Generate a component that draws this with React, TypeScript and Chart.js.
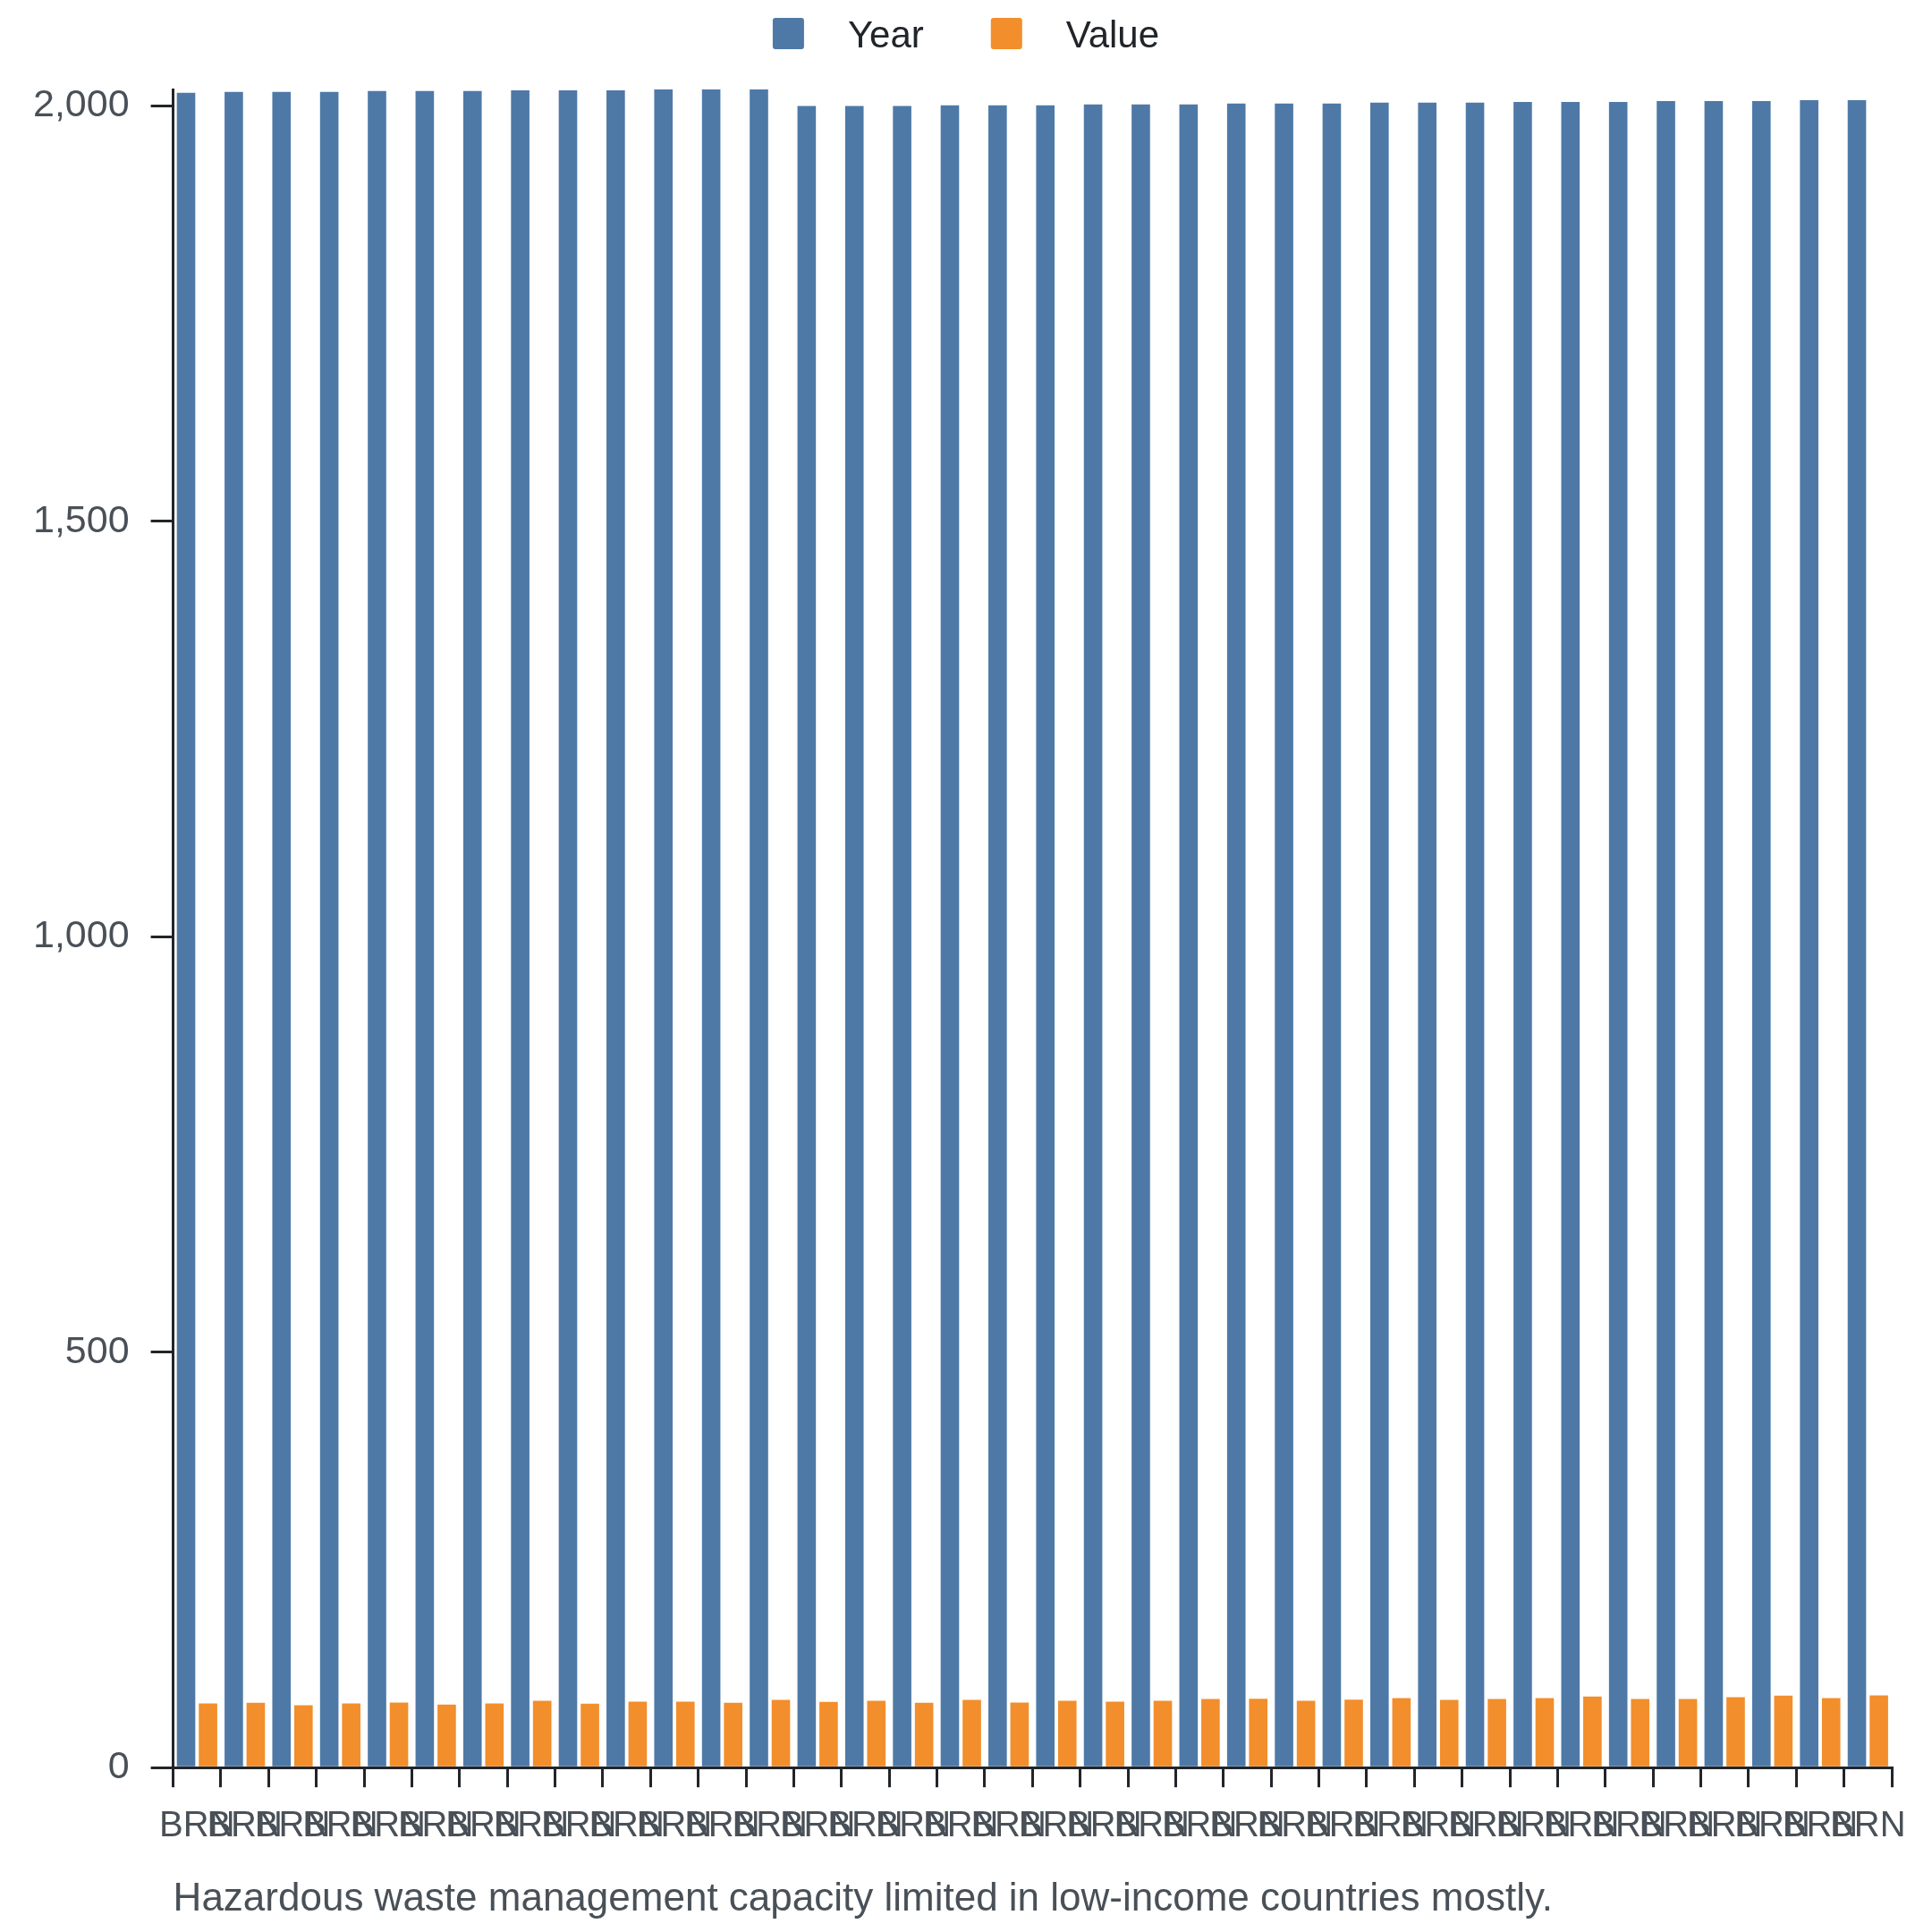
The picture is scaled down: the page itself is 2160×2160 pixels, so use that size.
import React, { useEffect, useRef } from 'react';
import { Chart, registerables } from 'chart.js';

Chart.register(...registerables);

const FONT = "'Liberation Sans', Arial, Helvetica, sans-serif";

const categories = [
  'BRN', 'BRN', 'BRN', 'BRN', 'BRN', 'BRN', 'BRN', 'BRN', 'BRN', 'BRN', 'BRN', 'BRN',
  'BRN', 'BRN', 'BRN', 'BRN', 'BRN', 'BRN', 'BRN', 'BRN', 'BRN', 'BRN', 'BRN', 'BRN',
  'BRN', 'BRN', 'BRN', 'BRN', 'BRN', 'BRN', 'BRN', 'BRN', 'BRN', 'BRN', 'BRN', 'BRN',
];

const yearValues = [
  2016, 2017, 2017, 2017, 2018, 2018, 2018, 2019, 2019, 2019, 2020, 2020,
  2020, 2000, 2000, 2000, 2001, 2001, 2001, 2002, 2002, 2002, 2003, 2003,
  2003, 2004, 2004, 2004, 2005, 2005, 2005, 2006, 2006, 2006, 2007, 2007,
];

const valueValues = [
  77.2, 78.0, 75.0, 77.2, 78.3, 75.8, 77.2, 80.4, 76.9, 79.4, 79.4, 78.0,
  81.5, 79.0, 80.4, 78.0, 81.5, 78.3, 80.4, 79.4, 80.4, 82.6, 82.9, 80.4,
  81.8, 83.7, 81.5, 82.6, 83.7, 85.5, 82.6, 82.6, 84.7, 86.6, 83.7, 86.9,
];

const seriesNames = ['Year', 'Value'];
const seriesColors = ['#4e79a7', '#f28e2b'];
const yTickStep = 500;
const caption = 'Hazardous waste management capacity limited in low-income countries mostly.';

const AXIS = '#212529';
const TICK_TEXT = '#495057';

const legendPlugin = {
  id: 'topLegend',
  afterDraw(chart: any) {
    const ctx = chart.ctx;
    ctx.save();
    ctx.font = `42px ${FONT}`;
    const box = 35;
    const gap = 49;
    const spacing = 75;
    const items = chart.data.datasets.map((ds: any) => ({
      text: ds.label,
      color: ds.backgroundColor,
      w: ctx.measureText(ds.label).width,
    }));
    const total =
      items.reduce((s: number, it: any) => s + box + gap + it.w, 0) + spacing * (items.length - 1);
    let x = (chart.width - total) / 2;
    const top = 12;
    for (const it of items) {
      ctx.fillStyle = it.color;
      ctx.beginPath();
      if (ctx.roundRect) ctx.roundRect(x, top, box, box, 3);
      else ctx.rect(x, top, box, box);
      ctx.fill();
      ctx.fillStyle = AXIS;
      ctx.textBaseline = 'alphabetic';
      ctx.textAlign = 'left';
      ctx.fillText(it.text, x + box + gap, 45);
      x += box + gap + it.w + spacing;
    }
    ctx.restore();
  },
};

export default function App() {
  const canvasRef = useRef<HTMLCanvasElement | null>(null);

  useEffect(() => {
    if (!canvasRef.current) return;
    const yMax = Math.max(...yearValues);
    const chart = new Chart(canvasRef.current, {
      type: 'bar',
      data: {
        labels: categories,
        datasets: [
          {
            label: seriesNames[0],
            data: yearValues,
            backgroundColor: seriesColors[0],
            categoryPercentage: 0.92,
            barPercentage: 0.84,
          },
          {
            label: seriesNames[1],
            data: valueValues,
            backgroundColor: seriesColors[1],
            categoryPercentage: 0.92,
            barPercentage: 0.84,
          },
        ],
      },
      options: {
        animation: false,
        responsive: true,
        maintainAspectRatio: false,
        layout: { padding: { top: 92, left: 5, right: 37, bottom: 0 } },
        plugins: {
          legend: { display: false },
          tooltip: { enabled: false },
          title: {
            display: true,
            text: caption,
            position: 'bottom',
            align: 'start',
            fullSize: false,
            color: TICK_TEXT,
            font: { family: FONT, size: 44, weight: 'normal' },
            padding: { top: 11, bottom: 2 },
          },
        },
        scales: {
          x: {
            grid: {
              display: true,
              drawOnChartArea: false,
              drawTicks: true,
              tickLength: 22,
              color: AXIS,
              lineWidth: 3,
              offset: true,
            },
            border: { display: true, color: AXIS, width: 3 },
            ticks: {
              autoSkip: false,
              maxRotation: 0,
              minRotation: 0,
              padding: 20,
              color: TICK_TEXT,
              font: { family: FONT, size: 40 },
            },
          },
          y: {
            beginAtZero: true,
            max: yMax,
            grid: {
              display: true,
              drawOnChartArea: false,
              drawTicks: true,
              tickLength: 25,
              color: AXIS,
              lineWidth: 3,
            },
            border: { display: true, color: AXIS, width: 3 },
            ticks: {
              stepSize: yTickStep,
              includeBounds: false,
              padding: 24,
              color: TICK_TEXT,
              font: { family: FONT, size: 43 },
            },
          },
        },
      },
      plugins: [legendPlugin],
    });
    return () => chart.destroy();
  }, []);

  return (
    <div style={{ width: '2144px', height: '2144px', position: 'relative' }}>
      <canvas ref={canvasRef} />
    </div>
  );
}
